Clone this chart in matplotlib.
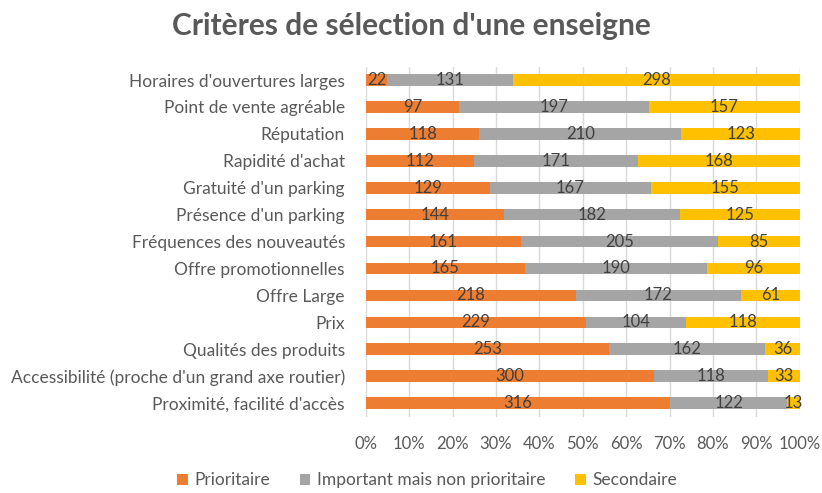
import numpy as np
import matplotlib.pyplot as plt

plt.rcParams["font.family"] = ["Lato", "DejaVu Sans"]

categories = [
    "Horaires d'ouvertures larges",
    "Point de vente agréable",
    "Réputation",
    "Rapidité d'achat",
    "Gratuité d'un parking",
    "Présence d'un parking",
    "Fréquences des nouveautés",
    "Offre promotionnelles",
    "Offre Large",
    "Prix",
    "Qualités des produits",
    "Accessibilité (proche d'un grand axe routier)",
    "Proximité, facilité d'accès",
]

prioritaire = [22, 97, 118, 112, 129, 144, 161, 165, 218, 229, 253, 300, 316]
important = [131, 197, 210, 171, 167, 182, 205, 190, 172, 104, 162, 118, 122]
secondaire = [298, 157, 123, 168, 155, 125, 85, 96, 61, 118, 36, 33, 13]

series = [
    ("Prioritaire", prioritaire, "#ED7D31"),
    ("Important mais non prioritaire", important, "#A5A5A5"),
    ("Secondaire", secondaire, "#FFC000"),
]

totals = np.array(prioritaire) + np.array(important) + np.array(secondaire)

fig = plt.figure(figsize=(8.22, 4.93), dpi=100)
ax = fig.add_axes([0.445, 0.155, 0.528, 0.71])

y = np.arange(len(categories))
left = np.zeros(len(categories))

for name, vals, color in series:
    vals = np.array(vals)
    share = vals / totals
    ax.barh(y, share, left=left, height=0.43, color=color, label=name, zorder=2)
    for yi, l, s, v in zip(y, left, share, vals):
        ax.text(l + s / 2, yi, str(v), ha="center", va="center",
                fontsize=12, color="#404040", zorder=3)
    left = left + share

ax.set_xlim(0, 1)
ax.set_ylim(len(categories) - 0.5, -0.5)
ax.set_yticks(y)
ax.set_yticklabels(categories, fontsize=12.5, color="#595959")
ax.set_xticks(np.arange(0, 1.01, 0.1))
ax.set_xticklabels([f"{int(round(t * 100))}%" for t in np.arange(0, 1.01, 0.1)],
                   fontsize=12, color="#595959")
ax.tick_params(axis="y", length=0, pad=15)
ax.tick_params(axis="x", length=0, pad=14)
ax.grid(axis="x", color="#D9D9D9", linewidth=1, zorder=0)
for sp in ax.spines.values():
    sp.set_visible(False)

fig.suptitle("Critères de sélection d'une enseigne", x=0.5, y=0.975,
             fontsize=21.5, fontweight="bold", color="#595959")

fig.legend(loc="lower center", ncol=3, frameon=False, fontsize=12.5,
           bbox_to_anchor=(0.52, -0.022), handlelength=0.6, handleheight=0.6,
           columnspacing=1.7, handletextpad=0.4, labelcolor="#595959")

fig.savefig("out.png", dpi=100)
